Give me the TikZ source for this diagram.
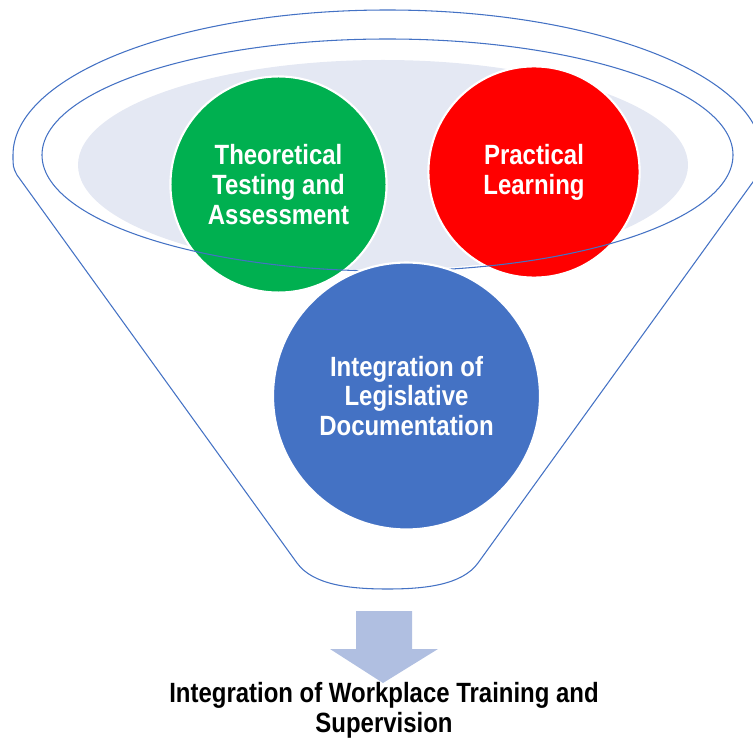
\documentclass[tikz,border=0pt]{standalone}
\usepackage{fontspec}
\setmainfont{Liberation Sans}[FakeStretch=0.86]
\definecolor{funnelline}{HTML}{4472C4}
\definecolor{bowlfill}{HTML}{E4E8F3}
\definecolor{greenball}{HTML}{00B050}
\definecolor{redball}{HTML}{FF0000}
\definecolor{blueball}{HTML}{4472C4}
\definecolor{arrowfill}{HTML}{B0BFE1}
\begin{document}
\begin{tikzpicture}[x=0.0265cm,y=0.0265cm,
  outline/.style={draw=funnelline,line width=0.8pt},
  ball/.style={circle,draw=white,line width=1.6pt,text=white,align=center,inner sep=0pt,
    font=\fontsize{21}{22.5}\selectfont\bfseries},
  caption/.style={align=center,font=\fontsize{21}{22.5}\selectfont\bfseries}]
\useasboundingbox (0,0) rectangle (753,742);
\clip (0,0) rectangle (753,742);

% shaded interior of the funnel mouth
\fill[bowlfill] (383,577) ellipse[x radius=305,y radius=105];

% upper balls
\node[ball,fill=greenball,minimum size=163pt] (theory) at (278.5,557.5) {Theoretical\\Testing and\\Assessment};
\node[ball,fill=redball,minimum size=159.3pt] (practice) at (534,570) {Practical\\Learning};

% funnel body and inner rim
\draw[outline] (17,567) .. controls (13,575) .. (13,587)
  arc[start angle=180,end angle=0,x radius=374.5,y radius=145]
  .. controls (762,575) .. (758,567) -- (478,179)
  .. controls (462,157) and (425,153) .. (387.5,153)
  .. controls (350,153) and (313,157) .. (297,179) -- cycle;
\draw[outline] (387.5,587) ellipse[x radius=345.5,y radius=116];

% lower ball
\node[ball,fill=blueball,minimum size=201.3pt] (law) at (406.5,346) {Integration of\\Legislative\\Documentation};

% output arrow and result
\fill[arrowfill] (356,131) -- (412,131) -- (412,93) -- (438,93) -- (383,59)
  -- (330,93) -- (356,93) -- cycle;
\node[caption] (result) at (384,32) {Integration of Workplace Training and\\Supervision};
\end{tikzpicture}
\end{document}
